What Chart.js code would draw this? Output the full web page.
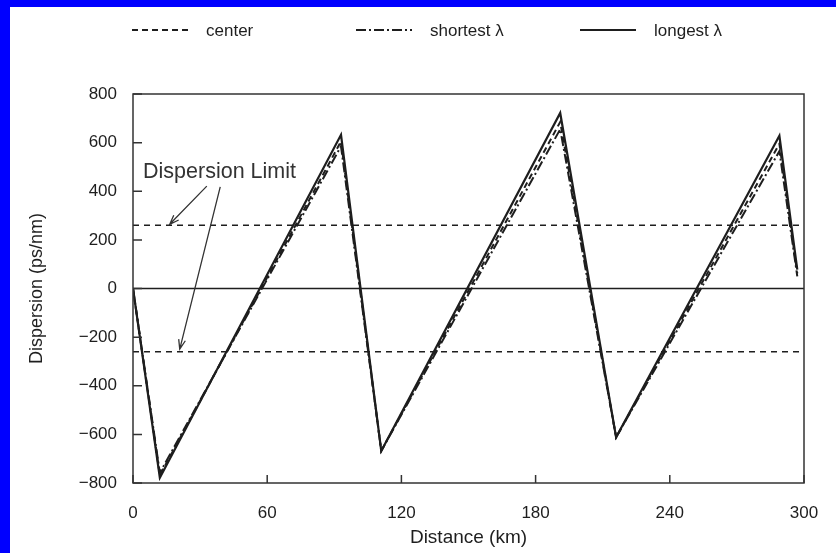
<!DOCTYPE html>
<html>
<head>
<meta charset="utf-8">
<script src="https://cdn.jsdelivr.net/npm/chart.js@4"></script>
<style>
  html, body { margin: 0; padding: 0; background: #0000ff; width: 836px; height: 553px; overflow: hidden; }
  #panel { position: absolute; left: 10px; top: 7px; width: 826px; height: 546px; background: #fff; }
</style>
</head>
<body>
<div id="panel"><canvas id="dispChart" width="826" height="546"></canvas></div>
<script>
// distance along the link (km) and accumulated dispersion (ps/nm)
const distanceKm = [0, 12, 93, 111, 191, 216, 289, 297];
const centerPs   = [0, -768, 605, -668, 685, -612, 595, 62];
const shortestPs = [0, -758, 585, -668, 655, -612, 565, 50];
const longestPs  = [0, -778, 632, -668, 722, -612, 628, 78];
const limitPs = [260, -260];
const limitKm = [0, 300];
const seriesNames = ["center", "shortest \u03bb", "longest \u03bb"];
const xTicks = [0, 60, 120, 180, 240, 300];
const yTicks = [-800, -600, -400, -200, 0, 200, 400, 600, 800];

const FONT = "'Liberation Sans', Arial, Helvetica, sans-serif";
const INK = "#1e1e1e";

function points(ys) {
  return distanceKm.map((x, i) => ({ x: x, y: ys[i] }));
}

function flat(y) {
  return limitKm.map(x => ({ x: x, y: y }));
}

function lineSet(label, data, dash, width) {
  return {
    label: label,
    data: data,
    showLine: true,
    borderColor: INK,
    borderWidth: width,
    borderDash: dash,
    pointRadius: 0,
    fill: false,
    tension: 0
  };
}

// frame, inward ticks, legend and the "Dispersion Limit" note
const extras = {
  id: "extras",
  afterDraw(chart) {
    const ctx = chart.ctx;
    const a = chart.chartArea;
    const xs = chart.scales.x, ys = chart.scales.y;
    ctx.save();
    ctx.strokeStyle = "#333";
    ctx.lineWidth = 1.5;
    ctx.setLineDash([]);
    ctx.strokeRect(a.left, a.top, a.right - a.left, a.bottom - a.top);
    ctx.beginPath();
    yTicks.forEach(v => {
      const py = ys.getPixelForValue(v);
      ctx.moveTo(a.left, py);
      ctx.lineTo(a.left + 9, py);
    });
    xTicks.forEach(v => {
      const px = xs.getPixelForValue(v);
      ctx.moveTo(px, a.bottom);
      ctx.lineTo(px, a.bottom - 8);
    });
    ctx.stroke();

    // legend
    const legendX = [122, 346, 570];
    ctx.font = "17px " + FONT;
    ctx.fillStyle = INK;
    ctx.textBaseline = "middle";
    for (let i = 0; i < 3; i++) {
      const ds = chart.data.datasets[i];
      ctx.beginPath();
      ctx.lineWidth = 2;
      ctx.strokeStyle = INK;
      ctx.setLineDash(ds.borderDash || []);
      ctx.moveTo(legendX[i], 23);
      ctx.lineTo(legendX[i] + 56, 23);
      ctx.stroke();
      ctx.fillText(ds.label, legendX[i] + 74, 24);
    }

    // annotation
    ctx.setLineDash([]);
    ctx.font = "21.5px " + FONT;
    ctx.fillStyle = "#333";
    ctx.textBaseline = "alphabetic";
    ctx.fillText("Dispersion Limit", xs.getPixelForValue(4.5), ys.getPixelForValue(455));
    const arrows = [[33, 421, 16.4, 264], [39, 418, 20.9, -249]];
    ctx.strokeStyle = "#333";
    ctx.lineWidth = 1.3;
    arrows.forEach(([x1, y1, x2, y2]) => {
      const sx = xs.getPixelForValue(x1), sy = ys.getPixelForValue(y1);
      const ex = xs.getPixelForValue(x2), ey = ys.getPixelForValue(y2);
      const ang = Math.atan2(ey - sy, ex - sx);
      ctx.beginPath();
      ctx.moveTo(sx, sy);
      ctx.lineTo(ex, ey);
      ctx.moveTo(ex - 10 * Math.cos(ang - 0.35), ey - 10 * Math.sin(ang - 0.35));
      ctx.lineTo(ex, ey);
      ctx.lineTo(ex - 10 * Math.cos(ang + 0.35), ey - 10 * Math.sin(ang + 0.35));
      ctx.stroke();
    });
    ctx.restore();
  }
};

new Chart(document.getElementById("dispChart"), {
  type: "scatter",
  data: {
    datasets: [
      lineSet(seriesNames[0], points(centerPs), [6, 4], 2),
      lineSet(seriesNames[1], points(shortestPs), [10, 3, 2, 3], 2),
      lineSet(seriesNames[2], points(longestPs), [], 2.2),
      lineSet("limit+", flat(limitPs[0]), [6, 5], 1.5),
      lineSet("limit-", flat(limitPs[1]), [6, 5], 1.5),
      lineSet("zero", flat(0), [], 1.5)
    ]
  },
  options: {
    responsive: false,
    animation: false,
    layout: { padding: { top: 87, right: 32, left: 0, bottom: 0 } },
    plugins: { legend: { display: false }, tooltip: { enabled: false } },
    scales: {
      x: {
        type: "linear",
        min: 0, max: 300,
        afterBuildTicks: s => { s.ticks = xTicks.map(v => ({ value: v })); },
        afterFit: s => { s.height = 70; },
        grid: { display: false },
        border: { display: false },
        ticks: { color: INK, font: { family: FONT, size: 17 }, padding: 12 },
        title: { display: true, text: "Distance (km)", color: INK, font: { family: FONT, size: 19 }, padding: { top: 4, bottom: 4 } }
      },
      y: {
        type: "linear",
        min: -800, max: 800,
        afterBuildTicks: s => { s.ticks = yTicks.map(v => ({ value: v })); },
        afterFit: s => { s.width = 123; },
        grid: { display: false },
        border: { display: false },
        ticks: {
          color: INK, font: { family: FONT, size: 17 }, padding: 8,
          callback: v => (v < 0 ? "\u2212" + Math.abs(v) : String(v))
        },
        title: { display: true, text: "Dispersion (ps/nm)", color: INK, font: { family: FONT, size: 18 }, padding: { top: 16, bottom: 0 } }
      }
    }
  },
  plugins: [extras]
});
</script>
</body>
</html>
